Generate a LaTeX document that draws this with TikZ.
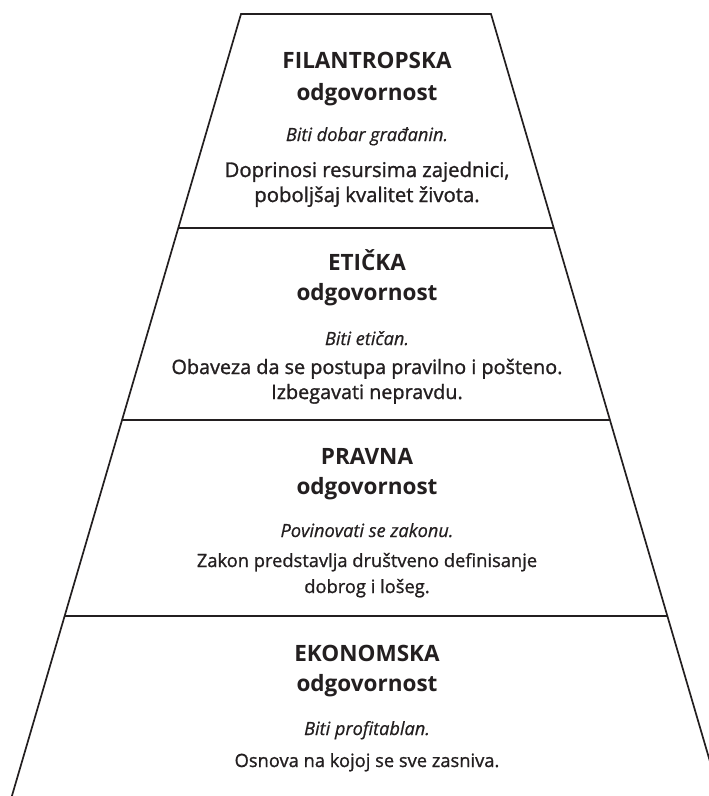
\documentclass[tikz,border=0pt]{standalone}
\usepackage{fontspec}
\setmainfont{Open Sans}
\newfontfamily\heavybody[FakeBold=1.3]{Open Sans}
\newfontfamily\midbody[FakeBold=1.1]{Open Sans}
\newfontfamily\mottofont[FakeBold=0.6]{Open Sans Italic}
\usetikzlibrary{calc}
\definecolor{ink}{HTML}{231F20}
\tikzset{
  edge/.style={draw=ink, line width=1.7pt, line join=miter},
  heading/.style={font=\bfseries\fontsize{22.5}{26}\selectfont, text=ink, anchor=base, inner sep=0pt},
  motto/.style={font=\mottofont\fontsize{18.2}{22}\selectfont, text=ink, anchor=base, inner sep=0pt},
  body/.style={font=\midbody\fontsize{18.3}{26}\selectfont, text=ink, anchor=base, inner sep=0pt},
  strongbody/.style={font=\heavybody\fontsize{19.8}{26}\selectfont, text=ink, anchor=base, inner sep=0pt},
}
\begin{document}
\begin{tikzpicture}[x=1pt, y=-1pt]
  \useasboundingbox (0,0) rectangle (709,796);
  \clip (0,0) rectangle (709,796);
  % outline corners of the pyramid (base runs off the page)
  \coordinate (TL) at (241,14);
  \coordinate (TR) at (491,14);
  \coordinate (BL) at (11.9,796);
  \coordinate (BR) at (720.1,796);
  \draw[edge] (BL) -- (TL) -- (TR) -- (BR);
  % tier dividers
  \foreach \yy/\nm in {228/d1, 420/d2, 616/d3} {
    \pgfmathsetmacro{\tt}{(\yy-14)/782}
    \coordinate (\nm l) at ($(TL)!\tt!(BL)$);
    \coordinate (\nm r) at ($(TR)!\tt!(BR)$);
    \draw[edge] (\nm l) -- (\nm r);
  }
  % tier 1
  \node[heading] (h1) at (367,68) {FILANTROPSKA};
  \node[heading] (o1) at (367,100) {odgovornost};
  \node[motto] (m1) at (367,141) {Biti dobar građanin.};
  \node[strongbody, font=\heavybody\fontsize{20.3}{26}\selectfont] (b1a) at (367,177) {Doprinosi resursima zajednici,};
  \node[strongbody, font=\heavybody\fontsize{20.3}{26}\selectfont] (b1b) at (367,202) {poboljšaj kvalitet života.};
  % tier 2
  \node[heading] (h2) at (367,270) {ETIČKA};
  \node[heading] (o2) at (367,300) {odgovornost};
  \node[motto] (m2) at (367,345) {Biti etičan.};
  \node[strongbody] (b2a) at (367,374) {Obaveza da se postupa pravilno i pošteno.};
  \node[strongbody] (b2b) at (367,399) {Izbegavati nepravdu.};
  % tier 3
  \node[heading] (h3) at (367,464) {PRAVNA};
  \node[heading] (o3) at (367,494) {odgovornost};
  \node[motto] (m3) at (367,537) {Povinovati se zakonu.};
  \node[body] (b3a) at (367,567) {Zakon predstavlja društveno definisanje};
  \node[body] (b3b) at (367,593) {dobrog i lošeg.};
  % tier 4
  \node[heading] (h4) at (367,661) {EKONOMSKA};
  \node[heading] (o4) at (367,691) {odgovornost};
  \node[motto] (m4) at (367,735) {Biti profitablan.};
  \node[body] (b4a) at (367,767) {Osnova na kojoj se sve zasniva.};
\end{tikzpicture}
\end{document}
